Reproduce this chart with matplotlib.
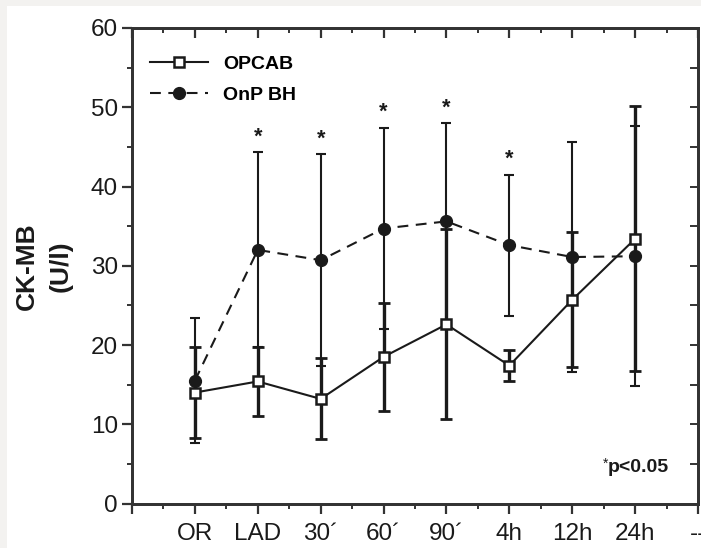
import matplotlib
matplotlib.use("Agg")
import matplotlib.pyplot as plt
from matplotlib.patches import Rectangle
from matplotlib.ticker import MultipleLocator

plt.rcParams["font.family"] = ["Liberation Sans", "DejaVu Sans"]

# data
labels = ["OR", "LAD", "30´", "60´", "90´", "4h", "12h", "24h"]
opcab_mean = [14.0, 15.4, 13.2, 18.5, 22.6, 17.4, 25.7, 33.4]
opcab_sd = [5.7, 4.3, 5.1, 6.8, 12.0, 2.0, 8.5, 16.7]
onp_mean = [15.5, 32.0, 30.7, 34.7, 35.6, 32.6, 31.1, 31.2]
onp_sd = [7.9, 12.3, 13.4, 12.7, 12.4, 8.9, 14.5, 16.4]
sig = [False, True, True, True, True, True, False, False]

INK = "#1a1a1a"; AX = "#333333"; GREY = "#f3f2f0"
W, H = 701, 548
fig = plt.figure(figsize=(W/100, H/100), dpi=100)
fig.patch.set_facecolor(GREY)
fig.patches.append(Rectangle((7/W, 0), 1, 1 - 6/H, transform=fig.transFigure,
                             facecolor="white", edgecolor="none", zorder=-10))
ax = fig.add_axes([132/W, 1 - 503.5/H, (698 - 132)/W, (503.5 - 28)/H])
ax.set_facecolor("white")

x = list(range(1, len(labels) + 1))

# error bars (drawn first, markers sit on top)
ax.errorbar(x, onp_mean, yerr=onp_sd, fmt="none", ecolor=INK, elinewidth=1.5,
            capsize=3.8, capthick=1.5, zorder=2)
ax.errorbar(x, opcab_mean, yerr=opcab_sd, fmt="none", ecolor=INK, elinewidth=2.4,
            capsize=4.2, capthick=2.0, zorder=2)

l_onp, = ax.plot(x, onp_mean, color=INK, lw=1.5, ls=(0, (5.2, 3.6)), marker="o",
                 ms=8.5, mfc=INK, mec=INK, label="OnP BH", zorder=3)
l_op, = ax.plot(x, opcab_mean, color=INK, lw=1.5, ls="-", marker="s",
                ms=7.5, mfc="white", mec=INK, mew=1.8, label="OPCAB", zorder=4)

for xi, m, s, flag in zip(x, onp_mean, onp_sd, sig):
    if flag:
        ax.text(xi, m + s + 0.6, "*", ha="center", va="bottom", fontsize=15.5,
                fontweight="bold", color=INK)

ax.set_xlim(0, 9)
ax.set_ylim(0, 60)
ax.set_xticks(range(0, 10))
ax.set_xticklabels([""] + labels + ["--"])
ax.xaxis.set_minor_locator(MultipleLocator(0.5))
ax.yaxis.set_major_locator(MultipleLocator(10))
ax.yaxis.set_minor_locator(MultipleLocator(5))
ax.tick_params(which="major", direction="out", length=7, width=1.6, color=AX,
               labelsize=17.5, labelcolor=INK)
ax.tick_params(axis="x", which="major", pad=7)
ax.tick_params(axis="y", which="major", pad=3)
ax.tick_params(which="minor", direction="out", length=3.5, width=1.4, color=AX)
for sp in ax.spines.values():
    sp.set_linewidth(1.8); sp.set_color(AX)

# mirrored ticks on top and right, pointing inward
axt = ax.twiny(); axt.set_xlim(0, 9); axt.set_xticks(range(0, 10))
axt.xaxis.set_minor_locator(MultipleLocator(0.5))
axt.tick_params(axis="x", which="major", direction="in", length=7, width=1.6,
                color=AX, labeltop=False)
axt.tick_params(axis="x", which="minor", direction="in", length=3.5, width=1.4, color=AX)
axr = ax.twinx(); axr.set_ylim(0, 60)
axr.yaxis.set_major_locator(MultipleLocator(10)); axr.yaxis.set_minor_locator(MultipleLocator(5))
axr.tick_params(axis="y", which="both", direction="in", length=5.5, width=1.4,
                color=AX, labelright=False)
for a in (axt, axr):
    for sp in a.spines.values():
        sp.set_linewidth(1.8); sp.set_color(AX)

ax.set_ylabel("CK-MB\n(U/l)", fontsize=19, fontweight="bold", color=INK,
              labelpad=13, linespacing=1.55)

leg = ax.legend(handles=[l_op, l_onp], loc="upper left", frameon=False,
                prop={"weight": "bold", "size": 14}, handlelength=3.0,
                numpoints=1, bbox_to_anchor=(0.0, 0.98), labelspacing=0.7,
                handletextpad=0.8)

ax.text(7.57, 4.6, "p<0.05", ha="left", va="center", fontsize=14,
        fontweight="bold", color=INK)
ax.text(7.57, 5.0, "*", ha="right", va="center", fontsize=10, color=INK)

fig.savefig("out.png", dpi=100, facecolor=fig.get_facecolor())
